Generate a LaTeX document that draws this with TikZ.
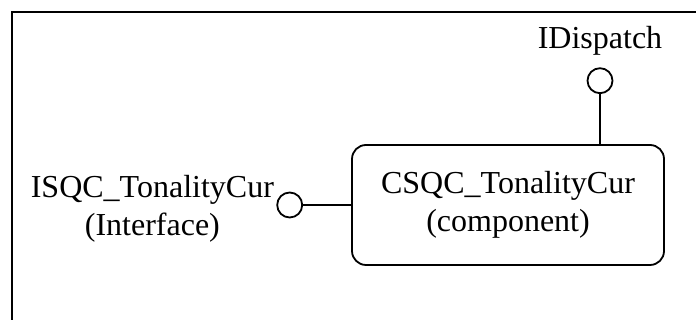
\documentclass[tikz,border=0pt]{standalone}
\usepackage{fontspec}
\setmainfont{Liberation Serif}
\usetikzlibrary{positioning}

\begin{document}
\begin{tikzpicture}[
    comp/.style={draw, line width=0.9pt, rounded corners=7pt, minimum width=156pt, minimum height=60pt, align=center, inner sep=0pt},
    lollipop/.style={circle, draw, line width=0.9pt, minimum size=12.5pt, inner sep=0pt},
    lbl/.style={align=center, inner sep=0pt},
    wire/.style={line width=0.9pt},
    font=\fontsize{16}{19}\selectfont
]
    \useasboundingbox (0,0) rectangle (348pt,160pt);
    \clip (0,0) rectangle (348pt,160pt);

    % outer frame (runs past the right and bottom edges)
    \draw[wire] (6pt,154pt) rectangle (360pt,-10pt);

    % the component
    \node[comp] (csqc) at (254pt,57.5pt) {CSQC\_TonalityCur\\(component)};

    % interfaces as lollipops
    \node[lollipop, left=24pt of csqc] (isqc) {};
    \node[lbl, left=1pt of isqc, yshift=-2pt] (isqclbl) {ISQC\_TonalityCur\\(Interface)};

    \coordinate (disptop) at ([xshift=46pt]csqc.north);
    \node[lollipop, above=25pt of disptop] (disp) {};
    \node[lbl, above=5.6pt of disp] (displbl) {IDispatch};

    \draw[wire] (isqc) -- (csqc);
    \draw[wire] (disp) -- (disptop);
\end{tikzpicture}
\end{document}
